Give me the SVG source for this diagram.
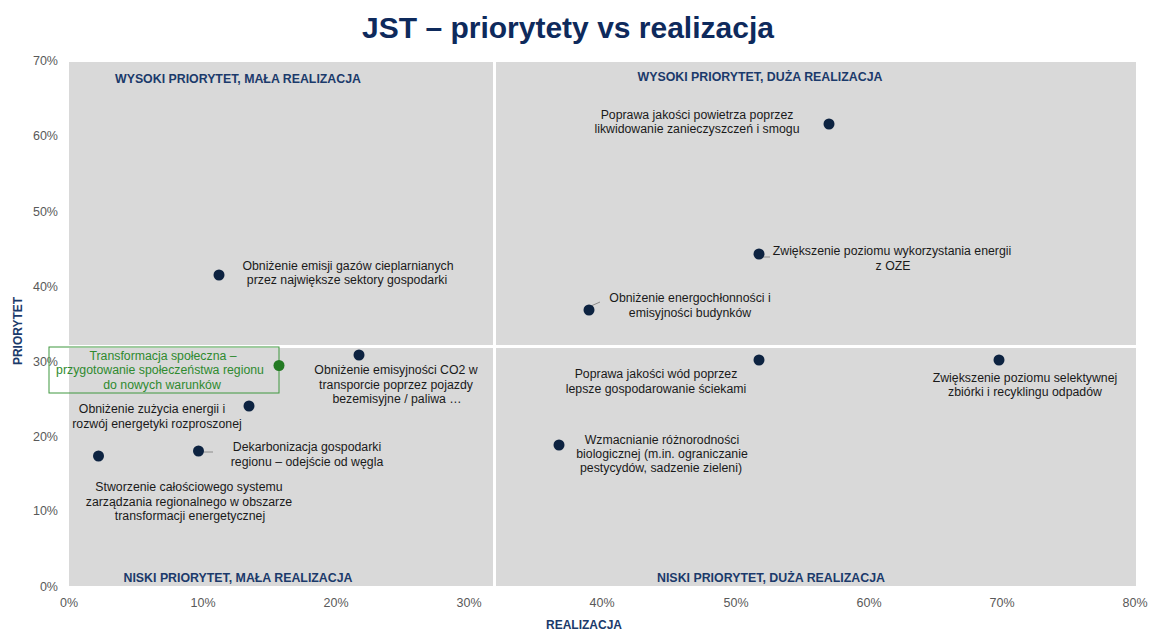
<svg xmlns="http://www.w3.org/2000/svg" width="1150" height="630" viewBox="0 0 1150 630">
<style>
.title{font-family:"Liberation Sans",Arial,sans-serif;font-weight:bold;font-size:30px;fill:#0E2A5C}
.tick{font-family:"Liberation Sans",Arial,sans-serif;font-size:12.5px;fill:#595959}
.axis{font-family:"Liberation Sans",Arial,sans-serif;font-weight:bold;font-size:12px;fill:#1B3A6B}
.quad{font-family:"Liberation Sans",Arial,sans-serif;font-weight:bold;font-size:12.5px;fill:#1B3A6B}
.lbl{font-family:"Liberation Sans",Arial,sans-serif;font-size:12.3px;fill:#1a1a1a;text-anchor:middle}
.glbl{font-family:"Liberation Sans",Arial,sans-serif;font-size:12.3px;fill:#2F8A2F;text-anchor:middle}
.dot{fill:#0D2341}
.gdot{fill:#237A23}
.lead{stroke:#8C8C8C;stroke-width:1;fill:none}
</style>
<rect width="1150" height="630" fill="#FFFFFF"/>
<text class="title" x="568" y="38" text-anchor="middle">JST – priorytety vs realizacja</text>

<g id="plot">
<rect x="69" y="62" width="1067" height="524" fill="#D9D9D9"/>
<rect x="493" y="62" width="3" height="524" fill="#FFFFFF"/>
<rect x="69" y="345" width="1067" height="3" fill="#FFFFFF"/>
</g>

<g id="y-ticks" text-anchor="end">
<text class="tick" x="58" y="65">70%</text>
<text class="tick" x="58" y="140">60%</text>
<text class="tick" x="58" y="216">50%</text>
<text class="tick" x="58" y="291">40%</text>
<text class="tick" x="58" y="366">30%</text>
<text class="tick" x="58" y="441">20%</text>
<text class="tick" x="58" y="515">10%</text>
<text class="tick" x="58" y="591">0%</text>
</g>
<g id="x-ticks" text-anchor="middle">
<text class="tick" x="69" y="607">0%</text>
<text class="tick" x="203" y="607">10%</text>
<text class="tick" x="336" y="607">20%</text>
<text class="tick" x="469" y="607">30%</text>
<text class="tick" x="602" y="607">40%</text>
<text class="tick" x="736" y="607">50%</text>
<text class="tick" x="869" y="607">60%</text>
<text class="tick" x="1002" y="607">70%</text>
<text class="tick" x="1135" y="607">80%</text>
</g>
<text class="axis" x="584" y="629" text-anchor="middle">REALIZACJA</text>
<text class="axis" transform="translate(22,331) rotate(-90)" text-anchor="middle">PRIORYTET</text>

<g id="quadrant-labels" text-anchor="middle">
<text class="quad" x="238" y="83" textLength="246" lengthAdjust="spacingAndGlyphs">WYSOKI PRIORYTET, MAŁA REALIZACJA</text>
<text class="quad" x="760" y="81" textLength="245" lengthAdjust="spacingAndGlyphs">WYSOKI PRIORYTET, DUŻA REALIZACJA</text>
<text class="quad" x="238" y="582" textLength="229" lengthAdjust="spacingAndGlyphs">NISKI PRIORYTET, MAŁA REALIZACJA</text>
<text class="quad" x="771" y="582" textLength="228" lengthAdjust="spacingAndGlyphs">NISKI PRIORYTET, DUŻA REALIZACJA</text>
</g>

<g id="connectors">
<line class="lead" x1="204" y1="452" x2="213" y2="452"/>
<line class="lead" x1="763" y1="257" x2="770" y2="257"/>
<line class="lead" x1="591" y1="306" x2="600" y2="302"/>
</g>

<g id="n-gazy">
<circle class="dot" cx="219" cy="275" r="5.5"/>
<text class="lbl" x="348" y="270">Obniżenie emisji gazów cieplarnianych</text>
<text class="lbl" x="347" y="284">przez największe sektory gospodarki</text>
</g>

<g id="n-transformacja">
<rect x="49" y="347" width="230" height="46" fill="none" stroke="#3F973F" stroke-width="1"/>
<circle class="gdot" cx="279" cy="365.5" r="5.5"/>
<text class="glbl" x="163" y="360">Transformacja społeczna  –</text>
<text class="glbl" x="160" y="374">przygotowanie społeczeństwa regionu</text>
<text class="glbl" x="162" y="389">do nowych warunków</text>
</g>

<g id="n-transport">
<circle class="dot" cx="359" cy="355" r="5.5"/>
<text class="lbl" x="396" y="374">Obniżenie emisyjności CO2 w</text>
<text class="lbl" x="396" y="389">transporcie poprzez pojazdy</text>
<text class="lbl" x="397" y="403">bezemisyjne / paliwa …</text>
</g>

<g id="n-zuzycie">
<circle class="dot" cx="249" cy="406" r="5.5"/>
<text class="lbl" x="152" y="413">Obniżenie zużycia energii i</text>
<text class="lbl" x="157" y="428">rozwój  energetyki rozproszonej</text>
</g>

<g id="n-dekarbonizacja">
<circle class="dot" cx="198.5" cy="451" r="5.5"/>
<text class="lbl" x="307" y="451">Dekarbonizacja gospodarki</text>
<text class="lbl" x="307" y="466">regionu – odejście od węgla</text>
</g>

<g id="n-system">
<circle class="dot" cx="98.5" cy="456" r="5.5"/>
<text class="lbl" x="189" y="491">Stworzenie całościowego systemu</text>
<text class="lbl" x="189" y="506">zarządzania regionalnego w obszarze</text>
<text class="lbl" x="190" y="520">transformacji energetycznej</text>
</g>

<g id="n-powietrze">
<circle class="dot" cx="829" cy="124" r="5.5"/>
<text class="lbl" x="697" y="119">Poprawa jakości powietrza poprzez</text>
<text class="lbl" x="697" y="133">likwidowanie zanieczyszczeń i smogu</text>
</g>

<g id="n-oze">
<circle class="dot" cx="759" cy="254" r="5.5"/>
<text class="lbl" x="892" y="255">Zwiększenie poziomu wykorzystania energii</text>
<text class="lbl" x="893" y="270">z OZE</text>
</g>

<g id="n-budynki">
<circle class="dot" cx="589" cy="310" r="5.5"/>
<text class="lbl" x="690" y="302">Obniżenie energochłonności i</text>
<text class="lbl" x="690" y="317">emisyjności budynków</text>
</g>

<g id="n-wody">
<circle class="dot" cx="759" cy="360" r="5.5"/>
<text class="lbl" x="656" y="378">Poprawa jakości wód poprzez</text>
<text class="lbl" x="656" y="393">lepsze gospodarowanie ściekami</text>
</g>

<g id="n-odpady">
<circle class="dot" cx="999" cy="360" r="5.5"/>
<text class="lbl" x="1025" y="382">Zwiększenie poziomu selektywnej</text>
<text class="lbl" x="1025" y="396">zbiórki i recyklingu odpadów</text>
</g>

<g id="n-bio">
<circle class="dot" cx="559" cy="445" r="5.5"/>
<text class="lbl" x="662" y="444">Wzmacnianie różnorodności</text>
<text class="lbl" x="662" y="458">biologicznej (m.in. ograniczanie</text>
<text class="lbl" x="661" y="472">pestycydów, sadzenie zieleni)</text>
</g>
</svg>
